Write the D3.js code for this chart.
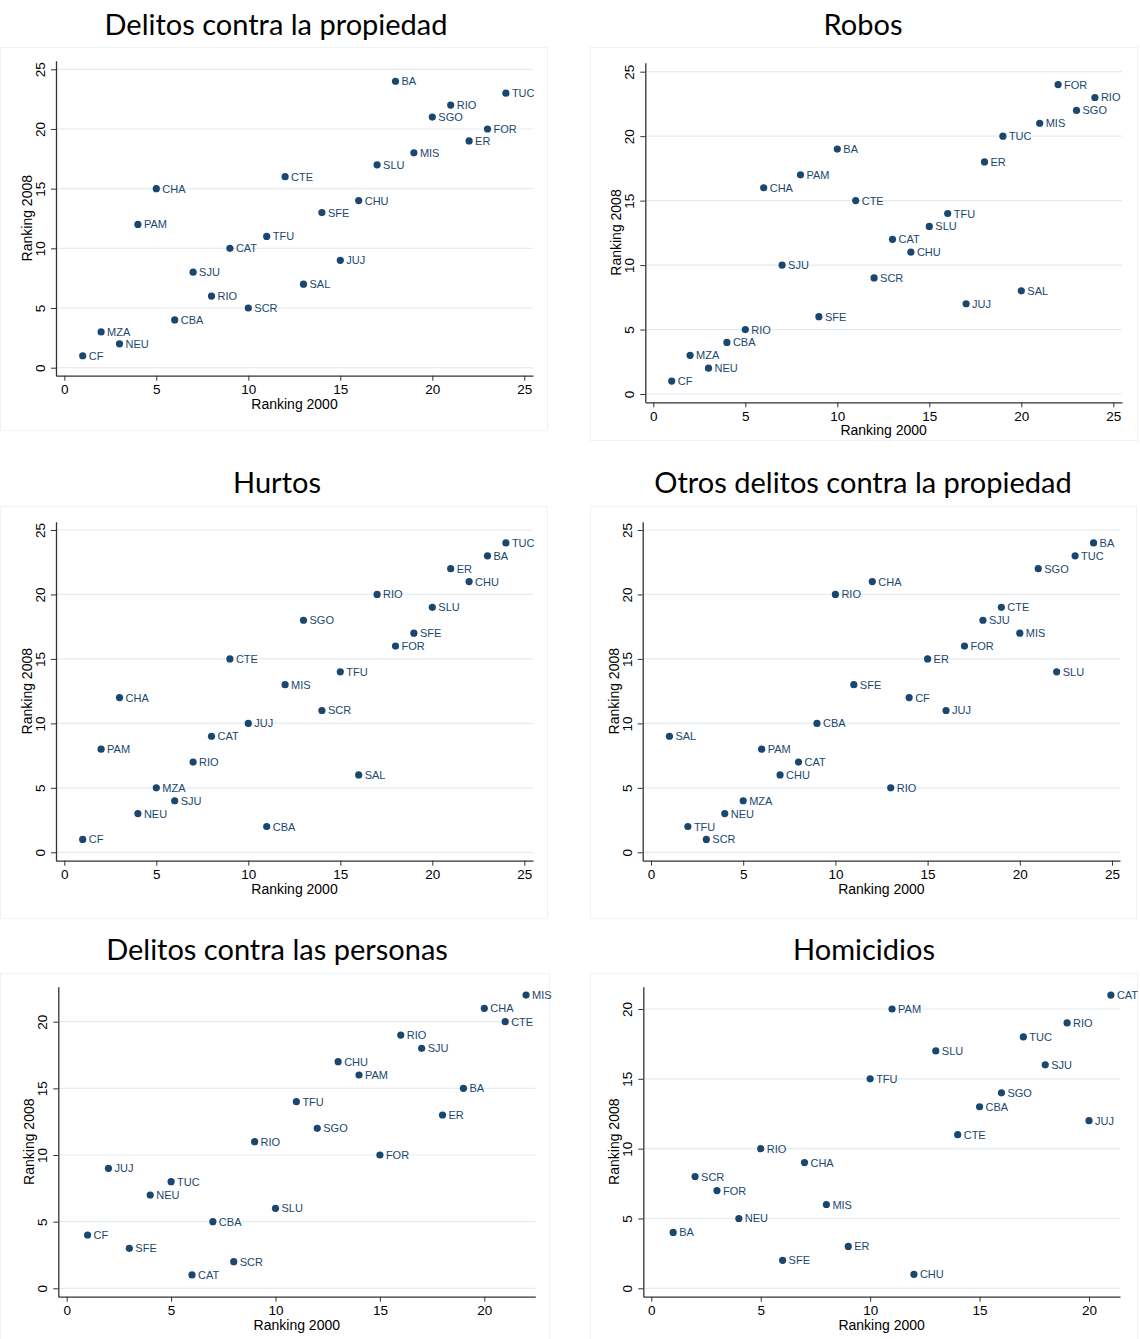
<!DOCTYPE html>
<html><head><meta charset="utf-8">
<script src="https://cdn.jsdelivr.net/npm/d3@7"></script>
<style>
html,body{margin:0;padding:0;background:#fff;}
svg{display:block;}
</style></head>
<body>
<svg id="chart" width="1140" height="1339"></svg>
<script>
// ---------- DATA ----------
const propLabels = ["CF","MZA","NEU","PAM","CHA","CBA","SJU","RIO","CAT","SCR","TFU","CTE","SAL","SFE","JUJ","CHU","SLU","BA","MIS","SGO","RIO","ER","FOR","TUC"];
const propX = [1,2,3,4,5,6,7,8,9,10,11,12,13,14,15,16,17,18,19,20,21,22,23,24];
const propY = [1,3,2,12,15,4,8,6,10,5,11,16,7,13,9,14,17,24,18,21,22,19,20,23];

const robLabels = ["CF","MZA","NEU","CBA","RIO","CHA","SJU","PAM","SFE","BA","CTE","SCR","CAT","CHU","SLU","TFU","JUJ","ER","TUC","SAL","MIS","FOR","SGO","RIO"];
const robX = [1,2,3,4,5,6,7,8,9,10,11,12,13,14,15,16,17,18,19,20,21,22,23,24];
const robY = [1,3,2,4,5,16,10,17,6,19,15,9,12,11,13,14,7,18,20,8,21,24,22,23];

const hurLabels = ["CF","PAM","CHA","NEU","MZA","SJU","RIO","CAT","CTE","JUJ","CBA","MIS","SGO","SCR","TFU","SAL","RIO","FOR","SFE","SLU","ER","CHU","BA","TUC"];
const hurX = [1,2,3,4,5,6,7,8,9,10,11,12,13,14,15,16,17,18,19,20,21,22,23,24];
const hurY = [1,8,12,3,5,4,7,9,15,10,2,13,18,11,14,6,20,16,17,19,22,21,23,24];

const otrLabels = ["SAL","TFU","SCR","NEU","MZA","PAM","CHU","CAT","CBA","RIO","SFE","CHA","RIO","CF","ER","JUJ","FOR","SJU","CTE","MIS","SGO","SLU","TUC","BA"];
const otrX = [1,2,3,4,5,6,7,8,9,10,11,12,13,14,15,16,17,18,19,20,21,22,23,24];
const otrY = [9,2,1,3,4,8,6,7,10,20,13,21,5,12,15,11,16,18,19,17,22,14,23,24];

const perLabels = ["CF","JUJ","SFE","NEU","TUC","CAT","CBA","SCR","RIO","SLU","TFU","SGO","CHU","PAM","FOR","RIO","SJU","ER","BA","CHA","CTE","MIS"];
const perX = [1,2,3,4,5,6,7,8,9,10,11,12,13,14,15,16,17,18,19,20,21,22];
const perY = [4,9,3,7,8,1,5,2,11,6,14,12,17,16,10,19,18,13,15,21,20,22];

const homLabels = ["BA","SCR","FOR","NEU","RIO","SFE","CHA","MIS","ER","TFU","PAM","CHU","SLU","CTE","CBA","SGO","TUC","SJU","RIO","JUJ","CAT"];
const homX = [1,2,3,4,5,6,7,8,9,10,11,12,13,14,15,16,17,18,19,20,21];
const homY = [4,8,7,5,10,2,9,6,3,15,20,1,17,11,13,14,18,16,19,12,21];

const ticks25 = [0,5,10,15,20,25];
const ticks20 = [0,5,10,15,20];

const titles = ["Delitos contra la propiedad","Robos","Hurtos","Otros delitos contra la propiedad","Delitos contra las personas","Homicidios"];
const xTitle = "Ranking 2000";
const yTitle = "Ranking 2008";

// ---------- LAYOUT ----------
const panels = [
  {title:titles[0], labels:propLabels, xs:propX, ys:propY, xt:ticks25, yt:ticks25,
   px0:64.3, pxM:524.3, axL:56, axR:533, py0:367.7, pyM:69.3, axB:375.7, axT:60.7,
   box:[0,47,547,430], tx:276, ty:35},
  {title:titles[1], labels:robLabels, xs:robX, ys:robY, xt:ticks25, yt:ticks25,
   px0:653.3, pxM:1113.3, axL:645.3, axR:1122, py0:394, pyM:71.7, axB:402.3, axT:62.7,
   box:[590,47,1137,440], tx:863, ty:35},
  {title:titles[2], labels:hurLabels, xs:hurX, ys:hurY, xt:ticks25, yt:ticks25,
   px0:64.3, pxM:524.3, axL:56, axR:533, py0:852.3, pyM:530, axB:860.7, axT:521.7,
   box:[0,506,547,918], tx:277, ty:493},
  {title:titles[3], labels:otrLabels, xs:otrX, ys:otrY, xt:ticks25, yt:ticks25,
   px0:651, pxM:1112, axL:642.7, axR:1120, py0:852.3, pyM:530, axB:860.7, axT:521.7,
   box:[590,506,1136,918], tx:863, ty:493},
  {title:titles[4], labels:perLabels, xs:perX, ys:perY, xt:ticks20, yt:ticks20,
   px0:66.7, pxM:484.3, axL:58.3, axR:535.3, py0:1288.3, pyM:1021.7, axB:1296.7, axT:986.7,
   box:[0,973,549,1345], tx:277, ty:960},
  {title:titles[5], labels:homLabels, xs:homX, ys:homY, xt:ticks20, yt:ticks20,
   px0:651.3, pxM:1089, axL:643.3, axR:1120, py0:1288.3, pyM:1009, axB:1296.7, axT:986.7,
   box:[590,973,1137,1345], tx:864, ty:960}
];

const NAVY = "#1a476f";
const svg = d3.select("#chart");

panels.forEach(p => {
  const g = svg.append("g");
  const xMax = p.xt[p.xt.length-1], yMax = p.yt[p.yt.length-1];
  const xu = (p.pxM - p.px0)/xMax, yu = (p.py0 - p.pyM)/yMax;
  const x = d3.scaleLinear()
    .domain([(p.axL - p.px0)/xu, (p.axR - p.px0)/xu])
    .range([p.axL, p.axR]);
  const y = d3.scaleLinear()
    .domain([(p.py0 - p.axB)/yu, (p.py0 - p.axT)/yu])
    .range([p.axB, p.axT]);

  g.append("rect")
    .attr("x", p.box[0]+0.5).attr("y", p.box[1]+0.5)
    .attr("width", p.box[2]-p.box[0]).attr("height", p.box[3]-p.box[1])
    .attr("fill","none").attr("stroke","#eef3f5").attr("stroke-width",1);

  g.append("text").attr("x", p.tx).attr("y", p.ty)
    .attr("text-anchor","middle")
    .style("font-family","Lato, 'Open Sans', sans-serif")
    .style("font-size","29px").attr("fill","#000")
    .text(p.title);

  g.selectAll("line.grid").data(p.yt).enter().append("line")
    .attr("x1", p.axL).attr("x2", p.axR)
    .attr("y1", d => y(d)).attr("y2", d => y(d))
    .attr("stroke","#e4ecef").attr("stroke-width",1.2);

  const xa = g.append("g").attr("transform", `translate(0,${p.axB})`)
    .call(d3.axisBottom(x).tickValues(p.xt).tickSizeOuter(0).tickSizeInner(5).tickPadding(4).tickFormat(d3.format("d")));
  const ya = g.append("g").attr("transform", `translate(${p.axL},0)`)
    .call(d3.axisLeft(y).tickValues(p.yt).tickSizeOuter(0).tickSizeInner(5).tickPadding(4).tickFormat(d3.format("d")));
  [xa, ya].forEach(a => {
    a.select(".domain").attr("stroke","#333").attr("stroke-width",1.3);
    a.selectAll(".tick line").attr("stroke","#333").attr("stroke-width",1);
    a.selectAll("text").style("font-family","'Liberation Sans', Arial, sans-serif")
      .style("font-size","13.5px").attr("fill","#000");
  });
  ya.selectAll(".tick text").each(function(){
    d3.select(this).attr("transform","translate(-11,0) rotate(-90)")
      .attr("x",0).attr("y",0).attr("dy","0").attr("text-anchor","middle");
  });

  g.append("text").attr("x",(p.axL+p.axR)/2).attr("y",p.axB+33)
    .attr("text-anchor","middle")
    .style("font-family","'Liberation Sans', Arial, sans-serif").style("font-size","14px")
    .text(xTitle);
  g.append("text")
    .attr("transform",`translate(${p.axL-24},${(p.axB+p.axT)/2}) rotate(-90)`)
    .attr("text-anchor","middle")
    .style("font-family","'Liberation Sans', Arial, sans-serif").style("font-size","14px")
    .text(yTitle);

  const pts = p.labels.map((l,i) => ({l, x:p.xs[i], y:p.ys[i]}));
  g.selectAll("circle.pt").data(pts).enter().append("circle")
    .attr("cx", d => x(d.x)).attr("cy", d => y(d.y)).attr("r",3.6)
    .attr("fill",NAVY);
  g.selectAll("text.lab").data(pts).enter().append("text")
    .attr("x", d => x(d.x)+6).attr("y", d => y(d.y)+4)
    .style("font-family","'Liberation Sans', Arial, sans-serif").style("font-size","11px")
    .attr("fill",NAVY)
    .text(d => d.l);
});
</script>
</body></html>
